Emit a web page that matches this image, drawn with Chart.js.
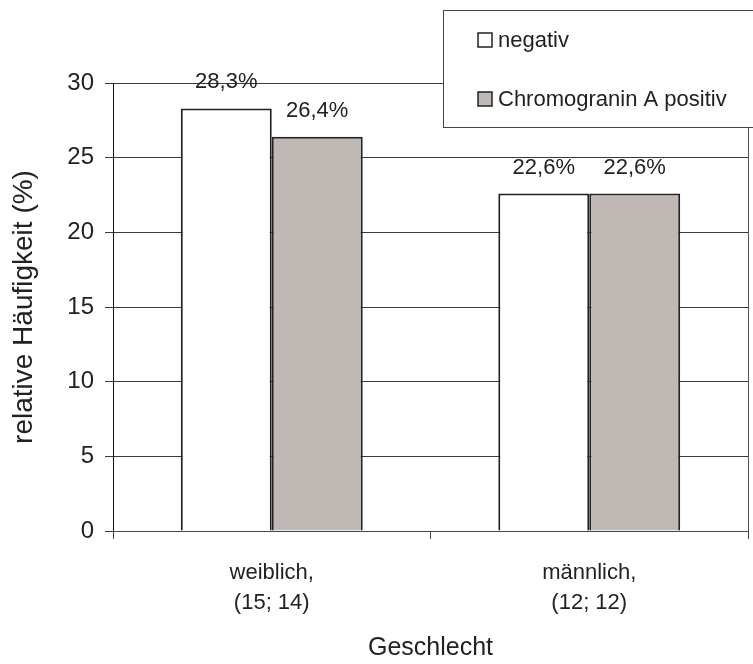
<!DOCTYPE html>
<html>
<head>
<meta charset="utf-8">
<script src="https://cdn.jsdelivr.net/npm/chart.js@4/dist/chart.umd.min.js"></script>
<style>
  html, body { margin: 0; padding: 0; background: #fff; }
  canvas { display: block; }
</style>
</head>
<body>
<canvas id="chart" width="753" height="664"></canvas>
<script>
// Categories (sex, with group sizes) and relative frequencies in percent
const categories = [["weiblich,", "(15; 14)"], ["männlich,", "(12; 12)"]];
const seriesNames = ["negativ", "Chromogranin A positiv"];
const negativValues = [28.3, 22.6];
const positivValues = [26.4, 22.6];
const yTicks = [0, 5, 10, 15, 20, 25, 30];

const FONT = "'Liberation Sans', Arial, sans-serif";
const TEXT = '#222';

function pct(v) {
  return v.toFixed(1).replace('.', ',') + '%';
}

// Value labels above every bar
const valueLabels = {
  id: 'valueLabels',
  afterDatasetsDraw(chart) {
    const ctx = chart.ctx;
    ctx.save();
    ctx.font = '22px ' + FONT;
    ctx.fillStyle = TEXT;
    ctx.textAlign = 'center';
    ctx.textBaseline = 'middle';
    chart.data.datasets.forEach((ds, i) => {
      chart.getDatasetMeta(i).data.forEach((bar, j) => {
        ctx.fillText(pct(ds.data[j]), bar.x, bar.y - 26);
      });
    });
    ctx.restore();
  }
};

// Right border of the plot area plus the boxed legend in the upper right
const frameAndLegend = {
  id: 'frameAndLegend',
  afterDraw(chart) {
    const ctx = chart.ctx;
    const a = chart.chartArea;
    ctx.save();
    ctx.strokeStyle = '#555';
    ctx.lineWidth = 1;
    ctx.beginPath();
    ctx.moveTo(a.right + 0.5, a.top);
    ctx.lineTo(a.right + 0.5, a.bottom);
    ctx.stroke();

    const box = { x: 443, y: 10, w: 330, h: 117 };
    ctx.fillStyle = '#fff';
    ctx.fillRect(box.x, box.y, box.w, box.h);
    ctx.strokeStyle = '#444';
    ctx.strokeRect(box.x + 0.5, box.y + 0.5, box.w, box.h);

    const rows = [40, 99];
    ctx.font = '22px ' + FONT;
    ctx.textAlign = 'left';
    ctx.textBaseline = 'middle';
    chart.data.datasets.forEach((ds, i) => {
      const cy = rows[i];
      ctx.fillStyle = ds.backgroundColor;
      ctx.fillRect(478, cy - 7, 14, 14);
      ctx.strokeStyle = '#222';
      ctx.lineWidth = 1.5;
      ctx.strokeRect(478, cy - 7, 14, 14);
      ctx.fillStyle = TEXT;
      ctx.fillText(ds.label, 498, cy + 1);
    });
    ctx.restore();
  }
};

new Chart(document.getElementById('chart'), {
  type: 'bar',
  data: {
    labels: categories,
    datasets: [
      {
        label: seriesNames[0],
        data: negativValues,
        backgroundColor: '#ffffff',
        borderColor: '#222222',
        borderWidth: 2,
        categoryPercentage: 0.573,
        barPercentage: 1.0
      },
      {
        label: seriesNames[1],
        data: positivValues,
        backgroundColor: '#c0b8b5',
        borderColor: '#222222',
        borderWidth: 2,
        categoryPercentage: 0.573,
        barPercentage: 1.0
      }
    ]
  },
  options: {
    responsive: false,
    animation: false,
    devicePixelRatio: 1,
    layout: { padding: { top: 83, right: 5, left: 0, bottom: 0 } },
    plugins: {
      legend: { display: false },
      tooltip: { enabled: false }
    },
    scales: {
      x: {
        offset: true,
        grid: {
          offset: true,
          drawOnChartArea: false,
          color: '#444',
          tickLength: 8
        },
        border: { color: '#444' },
        ticks: {
          color: TEXT,
          font: { family: FONT, size: 22, lineHeight: 1.37 },
          padding: 19,
          maxRotation: 0
        },
        title: {
          display: true,
          text: 'Geschlecht',
          color: TEXT,
          font: { family: FONT, size: 25 },
          padding: { top: 0, bottom: 1 }
        },
        afterFit(scale) { scale.height = 133; }
      },
      y: {
        min: 0,
        max: 30,
        afterBuildTicks(scale) {
          scale.ticks = yTicks.map(v => ({ value: v }));
        },
        grid: {
          color: '#3a3a3a',
          tickLength: 8
        },
        border: { color: '#111' },
        ticks: {
          color: TEXT,
          font: { family: FONT, size: 24 },
          padding: 11
        },
        title: {
          display: true,
          text: 'relative Häufigkeit (%)',
          color: TEXT,
          font: { family: FONT, size: 28 },
          padding: { top: 7, bottom: 0 }
        },
        afterFit(scale) { scale.width = 113; }
      }
    }
  },
  plugins: [valueLabels, frameAndLegend]
});
</script>
</body>
</html>
